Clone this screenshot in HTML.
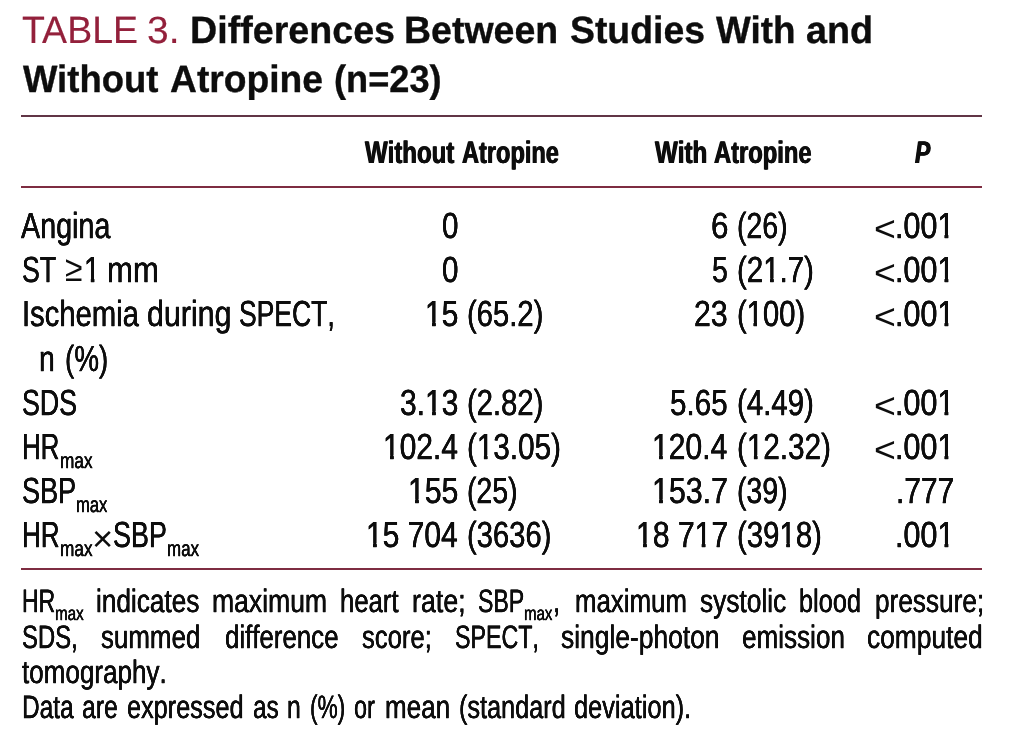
<!DOCTYPE html>
<html lang="en"><head><meta charset="utf-8"><title>Table 3</title>
<style>
html,body{margin:0;padding:0;background:#fff;}
body{width:1012px;height:745px;overflow:hidden;position:relative;font-family:"Liberation Sans",sans-serif;color:#0d0d0d;}
#t{position:absolute;left:0;top:0;width:1012px;height:745px;overflow:hidden;will-change:transform;transform:translateZ(0);text-rendering:geometricPrecision;}
#t div>span{position:absolute;white-space:pre;transform-origin:0 0;font-kerning:none;font-variant-ligatures:none;
 -webkit-font-smoothing:antialiased;margin:0;padding:0;display:block;}
#t hr{position:absolute;margin:0;border:0;background:#74162f;}
.b{font-weight:bold;}
.i{font-style:italic;}
.red{color:#93203b;}
.o{display:inline-block;clip-path:polygon(-20.00px -20.00px,60.00px -20.00px,60.00px 31.00px,12.75px 31.00px,12.75px 55.00px,8.65px 55.00px,8.65px 31.00px,-20.00px 31.00px);}
</style></head><body><div id="t">
<hr style="left:21px;top:115px;width:961px;height:2px;background:#613546">
<hr style="left:21px;top:186px;width:961px;height:2px;background:#7e2c41">
<hr style="left:21px;top:568px;width:961px;height:2px;background:#7e2c41">
<div class="caption">
<span class="red" style="left:21.83px;top:7px;font-size:38.00px;line-height:48px;transform:scaleX(0.9867);font-kerning:normal;-webkit-text-stroke:0.15px currentColor">TABLE</span>
<span class="red" style="left:147.19px;top:7px;font-size:38.00px;line-height:48px;transform:scaleX(1.0252);font-kerning:normal;-webkit-text-stroke:0.15px currentColor">3.</span>
<span class="b" style="left:189.66px;top:7px;font-size:38.00px;line-height:48px;transform:scaleX(0.9905);font-kerning:normal;-webkit-text-stroke:0.35px currentColor">Differences</span>
<span class="b" style="left:403.97px;top:7px;font-size:38.00px;line-height:48px;transform:scaleX(0.9867);font-kerning:normal;-webkit-text-stroke:0.35px currentColor">Between</span>
<span class="b" style="left:569.90px;top:7px;font-size:38.00px;line-height:48px;transform:scaleX(0.9833);font-kerning:normal;-webkit-text-stroke:0.35px currentColor">Studies</span>
<span class="b" style="left:716.14px;top:7px;font-size:38.00px;line-height:48px;transform:scaleX(0.9697);font-kerning:normal;-webkit-text-stroke:0.35px currentColor">With</span>
<span class="b" style="left:806.37px;top:7px;font-size:38.00px;line-height:48px;transform:scaleX(0.9939);font-kerning:normal;-webkit-text-stroke:0.35px currentColor">and</span>
<span class="b" style="left:23.34px;top:56px;font-size:38.00px;line-height:48px;transform:scaleX(0.9603);font-kerning:normal;-webkit-text-stroke:0.35px currentColor">Without</span>
<span class="b" style="left:170.15px;top:56px;font-size:38.00px;line-height:48px;transform:scaleX(0.9798);font-kerning:normal;-webkit-text-stroke:0.35px currentColor">Atropine</span>
<span class="b" style="left:333.67px;top:56px;font-size:38.00px;line-height:48px;transform:scaleX(0.9520);font-kerning:normal;-webkit-text-stroke:0.35px currentColor">(n=23)</span>
</div>
<div class="thead">
<span class="b" style="left:365.43px;top:133px;font-size:31.10px;line-height:39px;transform:scaleX(0.7720);text-shadow:0.583px 0 0 currentColor,-0.583px 0 0 currentColor">Without</span>
<span class="b" style="left:462.16px;top:133px;font-size:31.10px;line-height:39px;transform:scaleX(0.7583);text-shadow:0.593px 0 0 currentColor,-0.593px 0 0 currentColor">Atropine</span>
<span class="b" style="left:654.63px;top:133px;font-size:31.10px;line-height:39px;transform:scaleX(0.7754);text-shadow:0.580px 0 0 currentColor,-0.580px 0 0 currentColor">With</span>
<span class="b" style="left:714.16px;top:133px;font-size:31.10px;line-height:39px;transform:scaleX(0.7634);text-shadow:0.589px 0 0 currentColor,-0.589px 0 0 currentColor">Atropine</span>
<span class="b i" style="left:914.55px;top:133px;font-size:31.10px;line-height:39px;transform:scaleX(0.7361);text-shadow:0.611px 0 0 currentColor,-0.611px 0 0 currentColor">P</span>
</div>
<div class="row1">
<span style="left:21.09px;top:203px;font-size:36.20px;line-height:45px;transform:scaleX(0.7937);text-shadow:0.151px 0 0 currentColor,-0.151px 0 0 currentColor;-webkit-text-stroke:0.25px currentColor">Angina</span>
<span style="left:441.69px;top:203px;font-size:36.20px;line-height:45px;transform:scaleX(0.8154);text-shadow:0.147px 0 0 currentColor,-0.147px 0 0 currentColor;-webkit-text-stroke:0.25px currentColor">0</span>
<span style="left:710.65px;top:203px;font-size:36.20px;line-height:45px;transform:scaleX(0.8687);text-shadow:0.138px 0 0 currentColor,-0.138px 0 0 currentColor;-webkit-text-stroke:0.25px currentColor">6</span>
<span style="left:737.23px;top:203px;font-size:36.20px;line-height:45px;transform:scaleX(0.7850);text-shadow:0.153px 0 0 currentColor,-0.153px 0 0 currentColor;-webkit-text-stroke:0.25px currentColor">(26)</span>
<span style="left:873.95px;top:206px;font-size:36.20px;line-height:45px;transform:scaleX(1.0348)">&lt;</span>
<span style="left:895.46px;top:203px;font-size:36.20px;line-height:45px;transform:scaleX(0.8431);text-shadow:0.142px 0 0 currentColor,-0.142px 0 0 currentColor;-webkit-text-stroke:0.25px currentColor">.00<span class="o">1</span></span>
</div>
<div class="row2">
<span style="left:21.63px;top:247px;font-size:36.20px;line-height:45px;transform:scaleX(0.7380);text-shadow:0.163px 0 0 currentColor,-0.163px 0 0 currentColor;-webkit-text-stroke:0.25px currentColor">ST</span>
<span style="left:64.79px;top:246px;font-size:36.20px;line-height:45px;transform:scaleX(0.8785)">≥</span>
<span style="left:83.81px;top:247px;font-size:36.20px;line-height:45px;transform:scaleX(0.8000);text-shadow:0.150px 0 0 currentColor,-0.150px 0 0 currentColor;-webkit-text-stroke:0.25px currentColor"><span class="o">1</span></span>
<span style="left:106.93px;top:247px;font-size:36.20px;line-height:45px;transform:scaleX(0.8602);text-shadow:0.139px 0 0 currentColor,-0.139px 0 0 currentColor;-webkit-text-stroke:0.25px currentColor">mm</span>
<span style="left:441.69px;top:247px;font-size:36.20px;line-height:45px;transform:scaleX(0.8154);text-shadow:0.147px 0 0 currentColor,-0.147px 0 0 currentColor;-webkit-text-stroke:0.25px currentColor">0</span>
<span style="left:712.10px;top:247px;font-size:36.20px;line-height:45px;transform:scaleX(0.7872);text-shadow:0.152px 0 0 currentColor,-0.152px 0 0 currentColor;-webkit-text-stroke:0.25px currentColor">5</span>
<span style="left:737.17px;top:247px;font-size:36.20px;line-height:45px;transform:scaleX(0.8133);text-shadow:0.148px 0 0 currentColor,-0.148px 0 0 currentColor;-webkit-text-stroke:0.25px currentColor">(2<span class="o">1</span>.7)</span>
<span style="left:873.95px;top:250px;font-size:36.20px;line-height:45px;transform:scaleX(1.0348)">&lt;</span>
<span style="left:895.46px;top:247px;font-size:36.20px;line-height:45px;transform:scaleX(0.8431);text-shadow:0.142px 0 0 currentColor,-0.142px 0 0 currentColor;-webkit-text-stroke:0.25px currentColor">.00<span class="o">1</span></span>
</div>
<div class="row3">
<span style="left:21.55px;top:291px;font-size:36.20px;line-height:45px;transform:scaleX(0.8071);text-shadow:0.149px 0 0 currentColor,-0.149px 0 0 currentColor;-webkit-text-stroke:0.25px currentColor">Ischemia</span>
<span style="left:147.27px;top:291px;font-size:36.20px;line-height:45px;transform:scaleX(0.8392);text-shadow:0.143px 0 0 currentColor,-0.143px 0 0 currentColor;-webkit-text-stroke:0.25px currentColor">during</span>
<span style="left:239.04px;top:291px;font-size:36.20px;line-height:45px;transform:scaleX(0.7327);text-shadow:0.164px 0 0 currentColor,-0.164px 0 0 currentColor;-webkit-text-stroke:0.25px currentColor">SPECT,</span>
<span style="left:424.86px;top:291px;font-size:36.20px;line-height:45px;transform:scaleX(0.8283);text-shadow:0.145px 0 0 currentColor,-0.145px 0 0 currentColor;-webkit-text-stroke:0.25px currentColor"><span class="o">1</span>5</span>
<span style="left:467.18px;top:291px;font-size:36.20px;line-height:45px;transform:scaleX(0.8078);text-shadow:0.149px 0 0 currentColor,-0.149px 0 0 currentColor;-webkit-text-stroke:0.25px currentColor">(65.2)</span>
<span style="left:694.48px;top:291px;font-size:36.20px;line-height:45px;transform:scaleX(0.8346);text-shadow:0.144px 0 0 currentColor,-0.144px 0 0 currentColor;-webkit-text-stroke:0.25px currentColor">23</span>
<span style="left:737.19px;top:291px;font-size:36.20px;line-height:45px;transform:scaleX(0.8062);text-shadow:0.149px 0 0 currentColor,-0.149px 0 0 currentColor;-webkit-text-stroke:0.25px currentColor">(<span class="o">1</span>00)</span>
<span style="left:873.95px;top:294px;font-size:36.20px;line-height:45px;transform:scaleX(1.0348)">&lt;</span>
<span style="left:895.46px;top:291px;font-size:36.20px;line-height:45px;transform:scaleX(0.8431);text-shadow:0.142px 0 0 currentColor,-0.142px 0 0 currentColor;-webkit-text-stroke:0.25px currentColor">.00<span class="o">1</span></span>
</div>
<div class="row4">
<span style="left:39.05px;top:336px;font-size:36.20px;line-height:45px;transform:scaleX(0.7875);text-shadow:0.152px 0 0 currentColor,-0.152px 0 0 currentColor;-webkit-text-stroke:0.25px currentColor">n</span>
<span style="left:64.92px;top:336px;font-size:36.20px;line-height:45px;transform:scaleX(0.7684);text-shadow:0.156px 0 0 currentColor,-0.156px 0 0 currentColor;-webkit-text-stroke:0.25px currentColor">(%)</span>
</div>
<div class="row5">
<span style="left:21.83px;top:380px;font-size:36.20px;line-height:45px;transform:scaleX(0.7397);text-shadow:0.162px 0 0 currentColor,-0.162px 0 0 currentColor;-webkit-text-stroke:0.25px currentColor">SDS</span>
<span style="left:399.85px;top:380px;font-size:36.20px;line-height:45px;transform:scaleX(0.8292);text-shadow:0.145px 0 0 currentColor,-0.145px 0 0 currentColor;-webkit-text-stroke:0.25px currentColor">3.<span class="o">1</span>3</span>
<span style="left:467.18px;top:380px;font-size:36.20px;line-height:45px;transform:scaleX(0.8078);text-shadow:0.149px 0 0 currentColor,-0.149px 0 0 currentColor;-webkit-text-stroke:0.25px currentColor">(2.82)</span>
<span style="left:670.31px;top:380px;font-size:36.20px;line-height:45px;transform:scaleX(0.8188);text-shadow:0.147px 0 0 currentColor,-0.147px 0 0 currentColor;-webkit-text-stroke:0.25px currentColor">5.65</span>
<span style="left:737.17px;top:380px;font-size:36.20px;line-height:45px;transform:scaleX(0.8133);text-shadow:0.148px 0 0 currentColor,-0.148px 0 0 currentColor;-webkit-text-stroke:0.25px currentColor">(4.49)</span>
<span style="left:873.95px;top:383px;font-size:36.20px;line-height:45px;transform:scaleX(1.0348)">&lt;</span>
<span style="left:895.46px;top:380px;font-size:36.20px;line-height:45px;transform:scaleX(0.8431);text-shadow:0.142px 0 0 currentColor,-0.142px 0 0 currentColor;-webkit-text-stroke:0.25px currentColor">.00<span class="o">1</span></span>
</div>
<div class="row6">
<span style="left:22.02px;top:424px;font-size:36.20px;line-height:45px;transform:scaleX(0.7161);text-shadow:0.168px 0 0 currentColor,-0.168px 0 0 currentColor;-webkit-text-stroke:0.25px currentColor">HR</span>
<span style="left:60.00px;top:447px;font-size:21.90px;line-height:27px;transform:scaleX(0.7865);text-shadow:0.153px 0 0 currentColor,-0.153px 0 0 currentColor;-webkit-text-stroke:0.25px currentColor">max</span>
<span style="left:382.86px;top:424px;font-size:36.20px;line-height:45px;transform:scaleX(0.8276);text-shadow:0.145px 0 0 currentColor,-0.145px 0 0 currentColor;-webkit-text-stroke:0.25px currentColor"><span class="o">1</span>02.4</span>
<span style="left:467.16px;top:424px;font-size:36.20px;line-height:45px;transform:scaleX(0.8190);text-shadow:0.147px 0 0 currentColor,-0.147px 0 0 currentColor;-webkit-text-stroke:0.25px currentColor">(<span class="o">1</span>3.05)</span>
<span style="left:652.35px;top:424px;font-size:36.20px;line-height:45px;transform:scaleX(0.8311);text-shadow:0.144px 0 0 currentColor,-0.144px 0 0 currentColor;-webkit-text-stroke:0.25px currentColor"><span class="o">1</span>20.4</span>
<span style="left:737.16px;top:424px;font-size:36.20px;line-height:45px;transform:scaleX(0.8190);text-shadow:0.147px 0 0 currentColor,-0.147px 0 0 currentColor;-webkit-text-stroke:0.25px currentColor">(<span class="o">1</span>2.32)</span>
<span style="left:873.95px;top:427px;font-size:36.20px;line-height:45px;transform:scaleX(1.0348)">&lt;</span>
<span style="left:895.46px;top:424px;font-size:36.20px;line-height:45px;transform:scaleX(0.8431);text-shadow:0.142px 0 0 currentColor,-0.142px 0 0 currentColor;-webkit-text-stroke:0.25px currentColor">.00<span class="o">1</span></span>
</div>
<div class="row7">
<span style="left:21.52px;top:468px;font-size:36.20px;line-height:45px;transform:scaleX(0.7478);text-shadow:0.160px 0 0 currentColor,-0.160px 0 0 currentColor;-webkit-text-stroke:0.25px currentColor">SBP</span>
<span style="left:76.15px;top:491px;font-size:21.90px;line-height:27px;transform:scaleX(0.7562);text-shadow:0.159px 0 0 currentColor,-0.159px 0 0 currentColor;-webkit-text-stroke:0.25px currentColor">max</span>
<span style="left:407.84px;top:468px;font-size:36.20px;line-height:45px;transform:scaleX(0.8342);text-shadow:0.144px 0 0 currentColor,-0.144px 0 0 currentColor;-webkit-text-stroke:0.25px currentColor"><span class="o">1</span>55</span>
<span style="left:467.23px;top:468px;font-size:36.20px;line-height:45px;transform:scaleX(0.7850);text-shadow:0.153px 0 0 currentColor,-0.153px 0 0 currentColor;-webkit-text-stroke:0.25px currentColor">(25)</span>
<span style="left:652.33px;top:468px;font-size:36.20px;line-height:45px;transform:scaleX(0.8385);text-shadow:0.143px 0 0 currentColor,-0.143px 0 0 currentColor;-webkit-text-stroke:0.25px currentColor"><span class="o">1</span>53.7</span>
<span style="left:737.23px;top:468px;font-size:36.20px;line-height:45px;transform:scaleX(0.7850);text-shadow:0.153px 0 0 currentColor,-0.153px 0 0 currentColor;-webkit-text-stroke:0.25px currentColor">(39)</span>
<span style="left:895.52px;top:468px;font-size:36.20px;line-height:45px;transform:scaleX(0.8252);text-shadow:0.145px 0 0 currentColor,-0.145px 0 0 currentColor;-webkit-text-stroke:0.25px currentColor">.777</span>
</div>
<div class="row8">
<span style="left:22.01px;top:512px;font-size:36.20px;line-height:45px;transform:scaleX(0.7182);text-shadow:0.167px 0 0 currentColor,-0.167px 0 0 currentColor;-webkit-text-stroke:0.25px currentColor">HR</span>
<span style="left:59.90px;top:535px;font-size:21.90px;line-height:27px;transform:scaleX(0.7865);text-shadow:0.153px 0 0 currentColor,-0.153px 0 0 currentColor;-webkit-text-stroke:0.25px currentColor">max</span>
<span style="left:92.47px;top:516px;font-size:36.20px;line-height:45px;transform:scaleX(1.0069)">×</span>
<span style="left:112.77px;top:512px;font-size:36.20px;line-height:45px;transform:scaleX(0.7442);text-shadow:0.161px 0 0 currentColor,-0.161px 0 0 currentColor;-webkit-text-stroke:0.25px currentColor">SBP</span>
<span style="left:167.12px;top:535px;font-size:21.90px;line-height:27px;transform:scaleX(0.7751);text-shadow:0.155px 0 0 currentColor,-0.155px 0 0 currentColor;-webkit-text-stroke:0.25px currentColor">max</span>
<span style="left:366.11px;top:512px;font-size:36.20px;line-height:45px;transform:scaleX(0.8284);text-shadow:0.145px 0 0 currentColor,-0.145px 0 0 currentColor;-webkit-text-stroke:0.25px currentColor"><span class="o">1</span>5 704</span>
<span style="left:467.18px;top:512px;font-size:36.20px;line-height:45px;transform:scaleX(0.8064);text-shadow:0.149px 0 0 currentColor,-0.149px 0 0 currentColor;-webkit-text-stroke:0.25px currentColor">(3636)</span>
<span style="left:636.10px;top:512px;font-size:36.20px;line-height:45px;transform:scaleX(0.8325);text-shadow:0.144px 0 0 currentColor,-0.144px 0 0 currentColor;-webkit-text-stroke:0.25px currentColor"><span class="o">1</span>8 7<span class="o">1</span>7</span>
<span style="left:737.17px;top:512px;font-size:36.20px;line-height:45px;transform:scaleX(0.8114);text-shadow:0.148px 0 0 currentColor,-0.148px 0 0 currentColor;-webkit-text-stroke:0.25px currentColor">(39<span class="o">1</span>8)</span>
<span style="left:895.46px;top:512px;font-size:36.20px;line-height:45px;transform:scaleX(0.8431);text-shadow:0.142px 0 0 currentColor,-0.142px 0 0 currentColor;-webkit-text-stroke:0.25px currentColor">.00<span class="o">1</span></span>
</div>
<div class="foot">
<span style="left:22.11px;top:581px;font-size:32.40px;line-height:40px;transform:scaleX(0.7097);text-shadow:0.169px 0 0 currentColor,-0.169px 0 0 currentColor;-webkit-text-stroke:0.25px currentColor">HR</span>
<span style="left:55.49px;top:602px;font-size:19.50px;line-height:24px;transform:scaleX(0.7786);text-shadow:0.154px 0 0 currentColor,-0.154px 0 0 currentColor;-webkit-text-stroke:0.25px currentColor">max</span>
<span style="left:96.29px;top:581px;font-size:32.40px;line-height:40px;transform:scaleX(0.8087);text-shadow:0.148px 0 0 currentColor,-0.148px 0 0 currentColor;-webkit-text-stroke:0.25px currentColor">indicates</span>
<span style="left:212.48px;top:581px;font-size:32.40px;line-height:40px;transform:scaleX(0.8192);text-shadow:0.146px 0 0 currentColor,-0.146px 0 0 currentColor;-webkit-text-stroke:0.25px currentColor">maximum</span>
<span style="left:339.66px;top:581px;font-size:32.40px;line-height:40px;transform:scaleX(0.7932);text-shadow:0.151px 0 0 currentColor,-0.151px 0 0 currentColor;-webkit-text-stroke:0.25px currentColor">heart</span>
<span style="left:411.76px;top:581px;font-size:32.40px;line-height:40px;transform:scaleX(0.8284);text-shadow:0.145px 0 0 currentColor,-0.145px 0 0 currentColor;-webkit-text-stroke:0.25px currentColor">rate;</span>
<span style="left:477.50px;top:581px;font-size:32.40px;line-height:40px;transform:scaleX(0.7122);text-shadow:0.168px 0 0 currentColor,-0.168px 0 0 currentColor;-webkit-text-stroke:0.25px currentColor">SBP</span>
<span style="left:524.25px;top:602px;font-size:19.50px;line-height:24px;transform:scaleX(0.7701);text-shadow:0.156px 0 0 currentColor,-0.156px 0 0 currentColor;-webkit-text-stroke:0.25px currentColor">max</span>
<span style="left:553.12px;top:581px;font-size:32.40px;line-height:40px;transform:scaleX(0.8000);text-shadow:0.150px 0 0 currentColor,-0.150px 0 0 currentColor;-webkit-text-stroke:0.25px currentColor">,</span>
<span style="left:574.53px;top:581px;font-size:32.40px;line-height:40px;transform:scaleX(0.7972);text-shadow:0.151px 0 0 currentColor,-0.151px 0 0 currentColor;-webkit-text-stroke:0.25px currentColor">maximum</span>
<span style="left:700.21px;top:581px;font-size:32.40px;line-height:40px;transform:scaleX(0.8119);text-shadow:0.148px 0 0 currentColor,-0.148px 0 0 currentColor;-webkit-text-stroke:0.25px currentColor">systolic</span>
<span style="left:799.31px;top:581px;font-size:32.40px;line-height:40px;transform:scaleX(0.7831);text-shadow:0.153px 0 0 currentColor,-0.153px 0 0 currentColor;-webkit-text-stroke:0.25px currentColor">blood</span>
<span style="left:874.56px;top:581px;font-size:32.40px;line-height:40px;transform:scaleX(0.8089);text-shadow:0.148px 0 0 currentColor,-0.148px 0 0 currentColor;-webkit-text-stroke:0.25px currentColor">pressure;</span>
<span style="left:21.66px;top:617px;font-size:32.40px;line-height:40px;transform:scaleX(0.7371);text-shadow:0.163px 0 0 currentColor,-0.163px 0 0 currentColor;-webkit-text-stroke:0.25px currentColor">SDS,</span>
<span style="left:101.02px;top:617px;font-size:32.40px;line-height:40px;transform:scaleX(0.8001);text-shadow:0.150px 0 0 currentColor,-0.150px 0 0 currentColor;-webkit-text-stroke:0.25px currentColor">summed</span>
<span style="left:225.16px;top:617px;font-size:32.40px;line-height:40px;transform:scaleX(0.7980);text-shadow:0.150px 0 0 currentColor,-0.150px 0 0 currentColor;-webkit-text-stroke:0.25px currentColor">difference</span>
<span style="left:362.23px;top:617px;font-size:32.40px;line-height:40px;transform:scaleX(0.7914);text-shadow:0.152px 0 0 currentColor,-0.152px 0 0 currentColor;-webkit-text-stroke:0.25px currentColor">score;</span>
<span style="left:455.19px;top:617px;font-size:32.40px;line-height:40px;transform:scaleX(0.7174);text-shadow:0.167px 0 0 currentColor,-0.167px 0 0 currentColor;-webkit-text-stroke:0.25px currentColor">SPECT,</span>
<span style="left:561.21px;top:617px;font-size:32.40px;line-height:40px;transform:scaleX(0.8150);text-shadow:0.147px 0 0 currentColor,-0.147px 0 0 currentColor;-webkit-text-stroke:0.25px currentColor">single-photon</span>
<span style="left:741.84px;top:617px;font-size:32.40px;line-height:40px;transform:scaleX(0.8050);text-shadow:0.149px 0 0 currentColor,-0.149px 0 0 currentColor;-webkit-text-stroke:0.25px currentColor">emission</span>
<span style="left:867.43px;top:617px;font-size:32.40px;line-height:40px;transform:scaleX(0.8133);text-shadow:0.148px 0 0 currentColor,-0.148px 0 0 currentColor;-webkit-text-stroke:0.25px currentColor">computed</span>
<span style="left:22.35px;top:652px;font-size:32.40px;line-height:40px;transform:scaleX(0.8039);text-shadow:0.149px 0 0 currentColor,-0.149px 0 0 currentColor;-webkit-text-stroke:0.25px currentColor">tomography.</span>
<span style="left:22.14px;top:687px;font-size:32.40px;line-height:40px;transform:scaleX(0.7542);text-shadow:0.159px 0 0 currentColor,-0.159px 0 0 currentColor;-webkit-text-stroke:0.25px currentColor">Data</span>
<span style="left:82.39px;top:687px;font-size:32.40px;line-height:40px;transform:scaleX(0.7637);text-shadow:0.157px 0 0 currentColor,-0.157px 0 0 currentColor;-webkit-text-stroke:0.25px currentColor">are</span>
<span style="left:127.47px;top:687px;font-size:32.40px;line-height:40px;transform:scaleX(0.7801);text-shadow:0.154px 0 0 currentColor,-0.154px 0 0 currentColor;-webkit-text-stroke:0.25px currentColor">expressed</span>
<span style="left:253.21px;top:687px;font-size:32.40px;line-height:40px;transform:scaleX(0.7518);text-shadow:0.160px 0 0 currentColor,-0.160px 0 0 currentColor;-webkit-text-stroke:0.25px currentColor">as</span>
<span style="left:286.90px;top:687px;font-size:32.40px;line-height:40px;transform:scaleX(0.7636);text-shadow:0.157px 0 0 currentColor,-0.157px 0 0 currentColor;-webkit-text-stroke:0.25px currentColor">n</span>
<span style="left:309.54px;top:687px;font-size:32.40px;line-height:40px;transform:scaleX(0.6990);text-shadow:0.172px 0 0 currentColor,-0.172px 0 0 currentColor;-webkit-text-stroke:0.25px currentColor">(%)</span>
<span style="left:354.26px;top:687px;font-size:32.40px;line-height:40px;transform:scaleX(0.7250);text-shadow:0.166px 0 0 currentColor,-0.166px 0 0 currentColor;-webkit-text-stroke:0.25px currentColor">or</span>
<span style="left:384.51px;top:687px;font-size:32.40px;line-height:40px;transform:scaleX(0.8049);text-shadow:0.149px 0 0 currentColor,-0.149px 0 0 currentColor;-webkit-text-stroke:0.25px currentColor">mean</span>
<span style="left:458.68px;top:687px;font-size:32.40px;line-height:40px;transform:scaleX(0.7796);text-shadow:0.154px 0 0 currentColor,-0.154px 0 0 currentColor;-webkit-text-stroke:0.25px currentColor">(standard</span>
<span style="left:574.18px;top:687px;font-size:32.40px;line-height:40px;transform:scaleX(0.7840);text-shadow:0.153px 0 0 currentColor,-0.153px 0 0 currentColor;-webkit-text-stroke:0.25px currentColor">deviation).</span>
</div>
</div></body></html>
